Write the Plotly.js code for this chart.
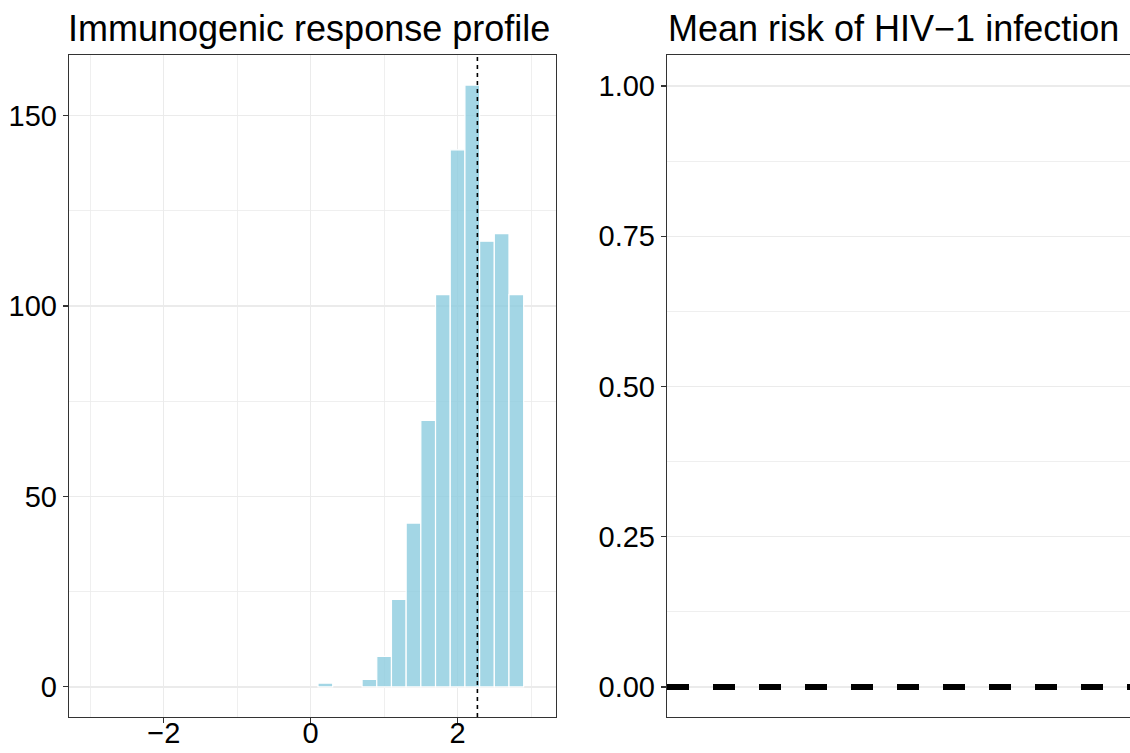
<!DOCTYPE html>
<html><head><meta charset="utf-8">
<script src="https://cdn.plot.ly/plotly-3.0.1.min.js"></script>
<style>html,body{margin:0;padding:0;overflow:hidden;background:#fff}#c{width:1165px;height:753px}</style>
</head><body><div id="c"></div>
<script>
// Histogram (left panel)
const binCenters = [0.2, 0.8, 1.0, 1.2, 1.4, 1.6, 1.8, 2.0, 2.2, 2.4, 2.6, 2.8];
const binCounts  = [1, 2, 8, 23, 43, 70, 103, 141, 158, 117, 119, 103];
const binWidth = 0.2;
const meanResponse = 2.27;
// Right panel
const riskX = [0, 1];
const riskY = [0, 0];
const titles = ["Immunogenic response profile", "Mean risk of HIV\u22121 infection"];

const W = 1165, H = 753;
const fx = p => p / W, fy = p => 1 - p / H;
const font = {family: "Liberation Sans, Arial, sans-serif", color: "#000"};
const grid = "#ebebeb";

const traces = [
  {type: "bar", x: binCenters, y: binCounts, width: binWidth,
   marker: {color: "rgba(140,204,222,0.8)", line: {color: "#ffffff", width: 1.2}},
   xaxis: "x", yaxis: "y", hoverinfo: "x+y"},
  {type: "scatter", mode: "markers", x: [meanResponse], y: [0], marker: {opacity: 0},
   xaxis: "x3", yaxis: "y", hoverinfo: "skip"},
  {type: "scatter", mode: "lines", x: riskX, y: riskY,
   line: {color: "#000", width: 6, dash: "22px,24px"}, xaxis: "x2", yaxis: "y2"}
];

const axBase = {showline: true, mirror: true, linecolor: "#333333", linewidth: 1.2,
  ticks: "outside", ticklen: 5, tickcolor: "#333333", tickwidth: 1.1,
  gridcolor: grid, gridwidth: 1.2, zeroline: false,
  tickfont: Object.assign({size: 29}, font)};

const xRange = [-3.29, 3.34];
const layout = {
  width: W, height: H, margin: {l: 0, r: 0, t: 0, b: 0},
  paper_bgcolor: "#fff", plot_bgcolor: "#fff", showlegend: false, bargap: 0,
  xaxis: Object.assign({}, axBase, {domain: [fx(69), fx(556)], range: xRange, showticklabels: false,
    tick0: 0, dtick: 2, minor: {dtick: 1, showgrid: true, gridcolor: grid, gridwidth: 0.8}}),
  xaxis3: {overlaying: "x", anchor: "free", position: fy(713), side: "bottom", range: xRange,
    tick0: 0, dtick: 2, ticks: "", showticklabels: true, tickfont: Object.assign({size: 29}, font),
    showgrid: false, zeroline: false, showline: false},
  yaxis: Object.assign({}, axBase, {domain: [fy(717), fy(55)], range: [-7.9, 165.9],
    tick0: 0, dtick: 50, minor: {dtick: 25, showgrid: true, gridcolor: grid, gridwidth: 0.8}}),
  xaxis2: Object.assign({}, axBase, {domain: [fx(667), fx(1154)], range: [0, 1], anchor: "y2",
    showgrid: false, showticklabels: false, ticks: ""}),
  yaxis2: Object.assign({}, axBase, {domain: [fy(717), fy(55)], range: [-0.05, 1.0516], anchor: "x2",
    tick0: 0, dtick: 0.25, tickformat: ".2f",
    minor: {dtick: 0.125, showgrid: true, gridcolor: grid, gridwidth: 0.8}}),
  shapes: [{type: "line", xref: "x", yref: "y domain", x0: meanResponse, x1: meanResponse, y0: 0, y1: 1,
    line: {color: "#000", width: 1.6, dash: "4px,4px"}}],
  annotations: [
    {text: titles[0], xref: "paper", yref: "paper", x: fx(66), y: fy(51), xanchor: "left", yanchor: "bottom",
     showarrow: false, font: Object.assign({size: 36}, font)},
    {text: titles[1], xref: "paper", yref: "paper", x: fx(666), y: fy(51), xanchor: "left", yanchor: "bottom",
     showarrow: false, font: Object.assign({size: 36}, font)}
  ]
};
Plotly.newPlot("c", traces, layout, {displayModeBar: false, staticPlot: true});
</script></body></html>
